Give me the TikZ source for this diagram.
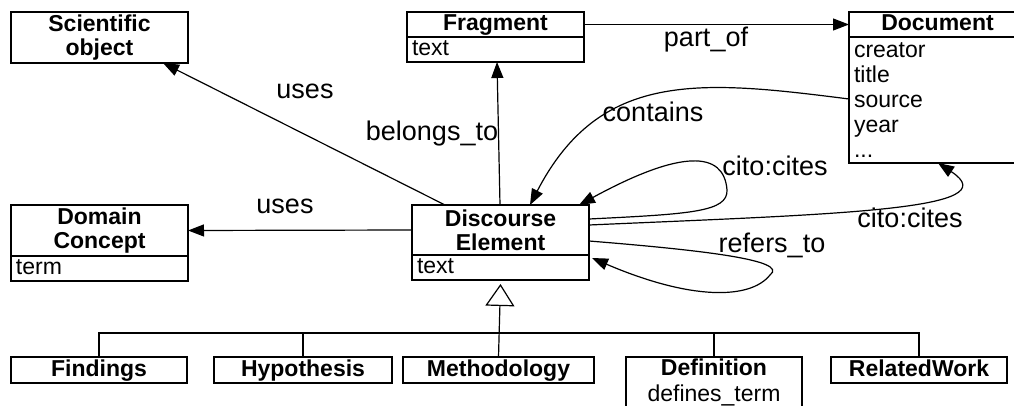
\documentclass[tikz,border=0pt]{standalone}
\usepackage{fontspec}
\setmainfont{Liberation Sans}
\usetikzlibrary{arrows.meta}
\begin{document}
\begin{tikzpicture}[x=1pt,y=-1pt,
  hd/.style={draw, line width=1.4pt, outer sep=0pt, font=\fontsize{23}{24}\selectfont\bfseries, minimum width=177pt, inner sep=0pt, align=center, anchor=north west},
  one/.style={text height=16pt, text depth=4pt},
  att/.style={draw, line width=1.4pt, outer sep=0pt, font=\fontsize{23}{25}\selectfont, minimum width=177pt, text width=167pt, inner xsep=5pt, inner ysep=0pt, align=left, anchor=north west},
  lb/.style={font=\fontsize{27}{27}\selectfont, anchor=base, inner sep=0pt},
  con/.style={line width=1.2pt},
  arr/.style={con, -{Triangle[length=16pt,width=12pt]}},
  gen/.style={con, -{Triangle[open,length=22pt,width=29pt,fill=white]}},
]
\useasboundingbox (0,0) rectangle (1014,406);
\clip (0,0) rectangle (1014,406);

% classes
\node[hd, minimum height=51pt] (sci) at (11,12) {Scientific\\object};
\node[hd, one, minimum height=25pt] (frag) at (407,12) {Fragment};
\node[att, one, minimum height=25pt] (fragA) at (frag.south west) {text};
\node[hd, one, minimum height=25pt] (doc) at (849,12) {Document};
\node[att, minimum height=126pt] (docA) at (doc.south west) {creator\\title\\source\\year\\...};
\node[hd, minimum height=51pt] (dc) at (11,205) {Domain\\Concept};
\node[att, one, minimum height=25pt] (dcA) at (dc.south west) {term};
\node[hd, minimum height=50pt] (de) at (412,205) {Discourse\\Element};
\node[att, one, minimum height=25pt] (deA) at (de.south west) {text};
\node[hd, one, minimum width=176pt, minimum height=26pt] (fin) at (11,357) {Findings};
\node[hd, one, minimum width=178pt, minimum height=26pt] (hyp) at (214,357) {Hypothesis};
\node[hd, one, minimum width=191pt, minimum height=26pt] (met) at (403,357) {Methodology};
\node[hd, minimum width=176pt, inner ysep=2pt, font=\fontsize{23}{25.5}\selectfont] (def) at (626,357) {{\bfseries Definition}\\defines\_term\rule[-14pt]{0pt}{14pt}};
\node[hd, one, minimum width=176pt, minimum height=26pt] (rel) at (831,357) {RelatedWork};

% associations
\draw[arr] ([xshift=33pt]de.north west) -- ([xshift=152pt]sci.south west);
\draw[arr] (de.west) -- (dc.east);
\draw[arr] ([xshift=88pt]de.north west) -- ([xshift=90pt]fragA.south west);
\draw[arr] (frag.east) -- (doc.west);
\draw[arr] ([yshift=1pt]docA.west) .. controls (700,80) and (600,70) .. ([xshift=118pt]de.north west);
\draw[arr] ([yshift=11pt]de.east) .. controls (690,214) and (728,212) .. (727,190)
   .. controls (724,150) and (680,150) .. ([xshift=-10pt]de.north east);
\draw[arr] ([yshift=5pt]de.east) .. controls (840,214) and (1010,210) .. ([xshift=89pt]docA.south west);
\draw[arr] ([yshift=-11pt]de.east) .. controls (700,250) and (790,260) .. (770,275)
   .. controls (750,300) and (690,300) .. ([xshift=3pt,yshift=-3pt]deA.north east);

% generalization
\coordinate (bus) at (0,333);
\draw[gen] (met.north) -- ([yshift=-4pt]deA.south);
\draw[con] (fin.north) -- (fin.north |- bus) -- (rel.north |- bus) -- (rel.north);
\draw[con] (hyp.north) -- (hyp.north |- bus);
\draw[con] (def.north) -- (def.north |- bus);

% labels
\node[lb] (l1) at (305,99) {uses};
\node[lb] (l2) at (285,213) {uses};
\node[lb] (l3) at (432,141) {belongs\_to};
\node[lb] (l4) at (706,47) {part\_of};
\node[lb] (l5) at (653,122) {contains};
\node[lb] (l6) at (775,176) {cito:cites};
\node[lb] (l7) at (910,227) {cito:cites};
\node[lb] (l8) at (772,252) {refers\_to};
\end{tikzpicture}
\end{document}
